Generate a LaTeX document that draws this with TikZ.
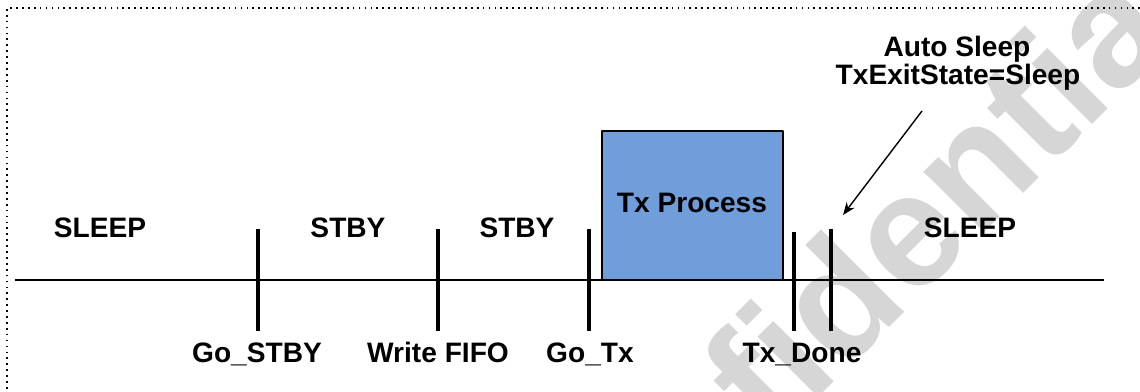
\documentclass[tikz,border=0pt]{standalone}
\usepackage{fontspec}
\setmainfont{Liberation Sans}
\usetikzlibrary{arrows.meta}
\definecolor{txblue}{RGB}{112,158,218}
\begin{document}
\begin{tikzpicture}[x=0.025cm,y=-0.025cm,>={Stealth[length=9pt,width=7pt]},line join=round,
	font=\fontsize{20}{24}\selectfont\bfseries,
	lbl/.style={anchor=base,inner sep=0pt},
	tick/.style={line width=2.5pt},
	frame/.style={line width=1.2pt,dash pattern=on 1.2pt off 3pt},
	txbox/.style={draw,line width=1pt,fill=txblue,minimum width=4.525cm,minimum height=3.725cm,inner sep=0pt},
	watermark/.style={text=black!16,font=\fontsize{115}{115}\selectfont\bfseries}]
	\useasboundingbox (0,0) rectangle (1140,392);
	\begin{scope}
		\clip (0,0) rectangle (1140,392);
		\node[watermark,rotate=45] (wm) at (840,295) {Confidential};
	\end{scope}
	\draw[frame] (1140,8) -| (7,392);
	\path
	(15,280) coordinate (L_0)
	(1104,280) coordinate (L_1)
	(922,111) coordinate (P_0)
	(843,215) coordinate (P_1)
	;
	\node[txbox] (tx) at (692.5,205.5) {};
	\node[lbl] (txp) at (692,213) {Tx Process};
	\draw[line width=2pt] (L_0)--(L_1);
	\foreach \x/\t/\n in {258/229/gs,438/229/wf,589/229/gt,794/232/td,831/229/as}{
		\path (\x,\t) coordinate (\n_a) (\x,331) coordinate (\n_b);
		\draw[tick] (\n_a)--(\n_b);
	}
	\node[lbl] (s1) at (100,238) {SLEEP};
	\node[lbl] (s2) at (348,238) {STBY};
	\node[lbl] (s3) at (517,238) {STBY};
	\node[lbl] (s4) at (970,238) {SLEEP};
	\node[lbl] (e1) at (257,363) {Go\_STBY};
	\node[lbl] (e2) at (438,363) {Write FIFO};
	\node[lbl] (e3) at (590,363) {Go\_Tx};
	\node[lbl] (e4) at (802,363) {Tx\_Done};
	\node[lbl] (a1) at (957,57) {Auto Sleep};
	\node[lbl] (a2) at (958,85) {TxExitState=Sleep};
	\draw[->,line width=1pt] (P_0)--(P_1);
\end{tikzpicture}
\end{document}
